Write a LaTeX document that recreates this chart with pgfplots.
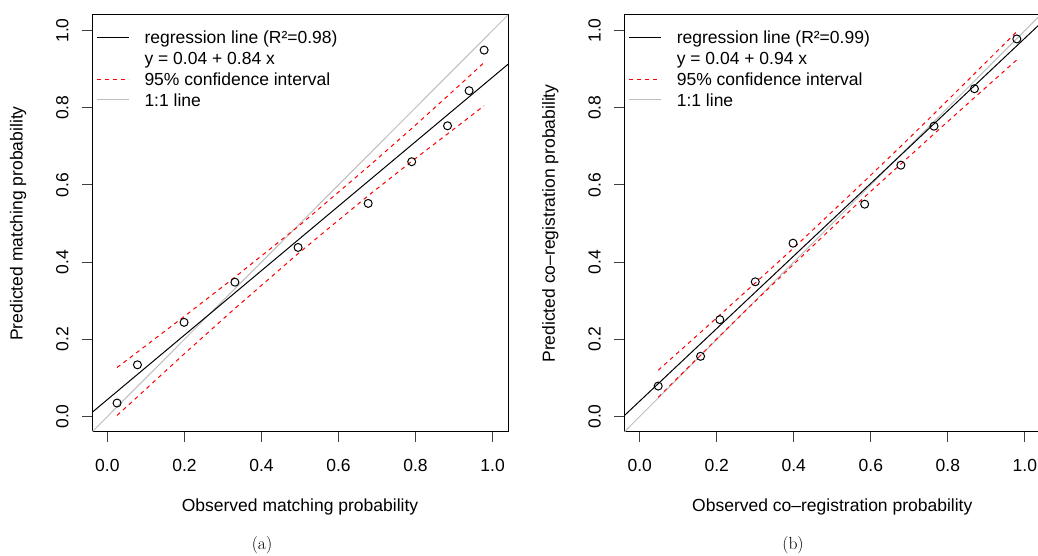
\documentclass[border=0pt]{standalone}
\usepackage{fontspec}
\usepackage{pgfplots}
\usepackage{pgfplotstable}
\pgfplotsset{compat=1.18}
\newfontfamily\rsans{Liberation Sans}
\definecolor{rgray}{RGB}{190,190,190}
\definecolor{rred}{RGB}{255,0,0}

% observed, predicted, upper and lower 95% band
\pgfplotstableread{
x     y     up    lo
0.025 0.035 0.127 0.003
0.078 0.134 0.167 0.051
0.199 0.244 0.259 0.162
0.331 0.348 0.361 0.280
0.495 0.438 0.492 0.422
0.677 0.552 0.647 0.572
0.790 0.660 0.746 0.661
0.883 0.753 0.830 0.732
0.939 0.844 0.881 0.775
0.978 0.949 0.917 0.805
}\matching
\pgfplotstableread{
x     y     up    lo
0.048 0.079 0.120 0.050
0.158 0.156 0.218 0.159
0.208 0.251 0.263 0.209
0.300 0.349 0.346 0.299
0.398 0.449 0.435 0.393
0.584 0.550 0.610 0.569
0.678 0.651 0.700 0.654
0.764 0.752 0.784 0.732
0.869 0.849 0.888 0.826
0.979 0.978 0.997 0.924
}\coreg

\pgfplotsset{
  rplot/.style={
    scale only axis, width=416pt, height=417pt, anchor=south west,
    xmin=-0.04, xmax=1.04, ymin=-0.04, ymax=1.04,
    xtick={0,0.2,0.4,0.6,0.8,1}, ytick={0,0.2,0.4,0.6,0.8,1},
    xticklabels={0.0,0.2,0.4,0.6,0.8,1.0},
    yticklabels={0.0,0.2,0.4,0.6,0.8,1.0},
    tick align=outside, major tick length=10pt,
    tick style={black!75, line width=1pt},
    axis line style={line width=1pt},
    xtick pos=bottom, ytick pos=left,
    xticklabel style={anchor=base, yshift=-29.3pt},
    yticklabel style={xshift=-13.7pt, rotate=90, anchor=base},
    every axis x label/.style={at={(axis description cs:0.5,0)}, anchor=center, yshift=-75pt},
    every axis y label/.style={at={(axis description cs:0,0.5)}, xshift=-74pt, rotate=90, anchor=center},
  },
}
\tikzset{
  oneone/.style={color=rgray, line width=1pt},
  regline/.style={color=black, line width=1pt},
  ciline/.style={color=rred, line width=1pt, dash pattern=on 4pt off 4pt},
  pts/.style={only marks, mark=o, mark size=4pt, black, mark options={line width=1pt}},
}

% legend without a box, as R draws it: #1 left edge of the panel, #2 R^2, #3 equation
\newcommand{\rlegend}[3]{%
  \begin{scope}[xshift=#1]
    \draw[regline] (4.7pt,518.7pt) -- (36.7pt,518.7pt);
    \draw[ciline]  (4.7pt,476.7pt) -- (36.7pt,476.7pt);
    \draw[oneone]  (4.7pt,456pt) -- (36.7pt,456pt);
    \node[anchor=base west, inner sep=0pt] at (52.3pt,512.4pt) {regression line (R²=#2)};
    \node[anchor=base west, inner sep=0pt] at (52.3pt,491pt) {#3};
    \node[anchor=base west, inner sep=0pt] at (52.3pt,470.4pt) {95\% confidence interval};
    \node[anchor=base west, inner sep=0pt] at (52.3pt,449.7pt) {1:1 line};
  \end{scope}}

\begin{document}
\begin{tikzpicture}[font=\rsans\fontsize{17.5pt}{21pt}\selectfont]
\begin{axis}[rplot, at={(92pt,124pt)},
  xlabel={Observed matching probability},
  ylabel={Predicted matching probability}]
  \addplot[oneone] coordinates {(-0.04,-0.04) (1.04,1.04)};
  \addplot[regline] coordinates {(-0.04,0.0106) (1.04,0.9124)};
  \addplot[ciline] table[x=x, y=up] {\matching};
  \addplot[ciline] table[x=x, y=lo] {\matching};
  \addplot[pts] table[x=x, y=y] {\matching};
\end{axis}
\begin{axis}[rplot, at={(624.3pt,124pt)},
  xlabel={Observed co\textendash registration probability},
  ylabel={Predicted co\textendash registration probability}]
  \addplot[oneone] coordinates {(-0.04,-0.04) (1.04,1.04)};
  \addplot[regline] coordinates {(-0.04,0.0024) (1.04,1.0176)};
  \addplot[ciline] table[x=x, y=up] {\coreg};
  \addplot[ciline] table[x=x, y=lo] {\coreg};
  \addplot[pts] table[x=x, y=y] {\coreg};
\end{axis}
\rlegend{92pt}{0.98}{y = 0.04 + 0.84 x}
\rlegend{624.3pt}{0.99}{y = 0.04 + 0.94 x}
\node[font=\rmfamily\fontsize{17.5pt}{21pt}\selectfont] at (262pt,11pt) {(a)};
\node[font=\rmfamily\fontsize{17.5pt}{21pt}\selectfont] at (793pt,11pt) {(b)};
\pgfresetboundingbox
\useasboundingbox (0pt,0pt) rectangle (1038pt,556pt);
\end{tikzpicture}
\end{document}
